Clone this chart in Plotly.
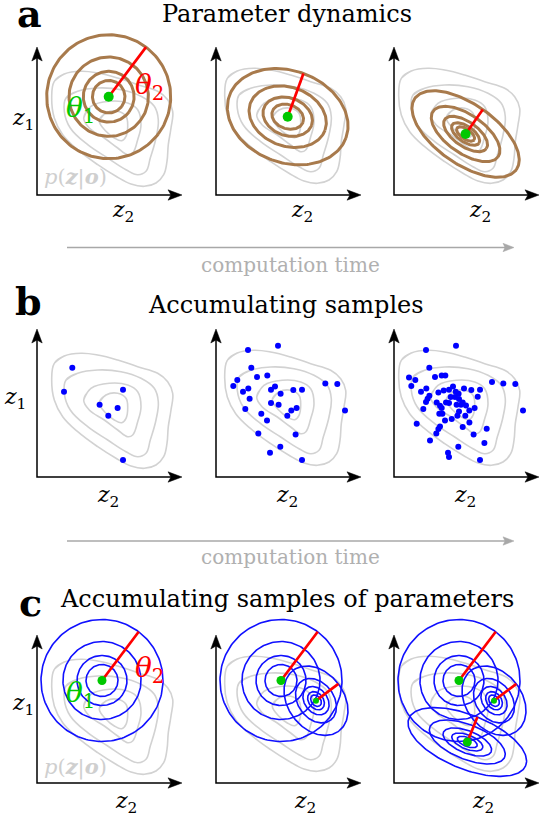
import numpy as np
import plotly.graph_objects as go

# page geometry (body margin is removed after drawing, see write_html below)
OFF = 0
FW, FH = 543, 816

# ---------------- data ----------------
# iso-density contours of p(z|o) for the first column (z2 -> horizontal, z1 -> vertical)
dens_l4_z2 = [17.3, 27.3, 44.0, 60.7, 80.7, 100.7, 120.7, 130.7, 135.7, 134.0, 131.3, 130.0, 126.7, 119.0, 107.3, 94.0, 79.0, 60.7, 40.7, 25.7, 17.3, 14.7]
dens_l4_z1 = [113.7, 121.0, 123.7, 122.0, 117.0, 110.3, 103.7, 95.3, 83.7, 67.0, 50.3, 33.7, 20.3, 12.0, 8.7, 11.0, 18.7, 30.3, 45.3, 60.3, 77.0, 97.0]
dens_l3_z2 = [29.0, 40.7, 60.7, 84.0, 104.0, 117.3, 121.3, 119.0, 113.3, 109.0, 100.7, 89.0, 70.7, 50.7, 33.3, 27.3]
dens_l3_z1 = [97.0, 103.7, 107.0, 105.3, 98.7, 88.7, 75.3, 57.0, 37.0, 23.7, 20.3, 25.3, 37.0, 50.3, 67.0, 83.7]
dens_l2_z2 = [46.7, 54.0, 72.3, 90.7, 100.7, 104.0, 100.7, 95.7, 90.7, 80.7, 67.3, 52.3]
dens_l2_z1 = [77.0, 88.7, 93.7, 92.0, 85.3, 70.3, 55.3, 42.0, 40.3, 47.0, 57.0, 67.0]
dens_l1_z2 = [62.3, 69.0, 80.7, 89.0, 90.7, 89.0, 84.7, 77.3, 69.0]
dens_l1_z1 = [74.3, 82.0, 83.7, 78.7, 68.7, 58.7, 54.3, 57.0, 63.7]
# placement of the density in columns 1..3
dens_shift_z2 = [0.0, -6.0, -10.0]
dens_shift_z1 = [0.0, 3.0, 3.0]

# panel a: parameters over computation time (mean z2, mean z1, major sd, minor sd, angle deg)
a_mu_z2 = [71.7, 71.7, 71.6]
a_mu_z1 = [98.3, 78.3, 61.0]
a_sd_major = [62.0, 62.0, 62.0]
a_sd_minor = [62.0, 46.0, 30.0]
a_angle = [-37.0, -20.0, -35.0]
a_rings = [4, 4, 5]

# panel b: accumulated samples (batches appended over time)
s_batch1_z2 = [35.3, 27.0, 86.0, 62.6, 80.6, 71.3, 86.0]
s_batch1_z1 = [109.3, 85.3, 87.3, 72.3, 69.0, 61.3, 17.0]
s_batch2_z2 = [62.0, 32.0, 41.0, 51.3, 21.3, 17.3, 32.3, 33.6, 55.0, 59.0, 64.6, 77.3, 109.3, 121.3, 129.0, 29.3, 45.3, 55.0, 75.3, 51.0, 42.3, 79.6, 64.3, 54.0]
s_batch2_z1 = [131.3, 127.0, 100.0, 101.6, 97.0, 91.0, 88.6, 78.3, 87.3, 90.6, 83.3, 87.0, 93.6, 93.0, 66.6, 68.0, 63.3, 74.0, 66.6, 56.6, 43.6, 42.6, 30.3, 24.3]
s_batch3_z2 = [47.7, 15.0, 35.4, 32.0, 44.4, 49.7, 61.7, 70.0, 83.7, 98.0, 42.7, 46.0, 47.7, 52.0, 56.7, 61.0, 65.0, 67.0, 68.7, 72.0, 65.0, 63.4, 75.4, 48.4, 57.7, 22.7, 46.0, 44.4, 68.7, 92.7, 36.0, 90.4, 55.0]
s_batch3_z1 = [101.6, 99.6, 81.3, 75.0, 84.6, 86.6, 85.3, 88.6, 80.3, 95.0, 74.6, 71.3, 69.0, 74.6, 80.0, 80.0, 78.0, 72.3, 74.6, 71.6, 65.6, 61.3, 54.6, 63.3, 58.0, 53.3, 50.6, 48.0, 50.0, 48.3, 36.6, 34.0, 20.0]

# panel c: accumulated parameter samples
p_mu_z2 = [65.0, 100.0, 73.3]
p_mu_z1 = [102.5, 82.3, 41.0]
p_sd_major = [61.0, 38.0, 63.0]
p_sd_minor = [61.0, 28.0, 27.0]
p_angle = [-37.0, -53.0, -22.0]
p_rings = [4, 5, 5]
c_n_params = [1, 2, 3]

ring_ratio = 0.64

# ---------------- style / layout ----------------
col_ox = [37, 216, 394]      # window px of the axis corner
row_oy = [195, 477, 783]
XR = (-36, 149)
YR = (-20, 168)
AX_X, AX_Y = 145, 148

FONT = "DejaVu Serif"
GRAY = "#d2d2d2"
BROWN = "#a87a4c"
BLUE = "#1010ff"
GREEN = "#00c800"
RED = "#ff0000"


def px2paper(px, py):
    return (px - OFF) / FW, 1 - (py - OFF) / FH


fig = go.Figure()
layout = dict(width=FW, height=FH, margin=dict(l=0, r=0, t=0, b=0),
              paper_bgcolor="white", plot_bgcolor="rgba(0,0,0,0)",
              showlegend=False, annotations=[])
ann = layout["annotations"]


def names(k):
    return (("x" if k == 1 else f"x{k}"), ("y" if k == 1 else f"y{k}"),
            ("xaxis" if k == 1 else f"xaxis{k}"), ("yaxis" if k == 1 else f"yaxis{k}"))


def line(xn, yn, x, y, color, width, **kw):
    fig.add_trace(go.Scatter(x=x, y=y, mode="lines", xaxis=xn, yaxis=yn,
                             line=dict(color=color, width=width, **kw), hoverinfo="skip"))


def head(xn, yn, tx, ty, dx, dy, color, hl=14, hw=5.2, hn=3.0):
    # filled arrow head with its tip at (tx, ty) pointing along (dx, dy)
    nx, ny = -dy, dx
    bx, by = tx - hl * dx, ty - hl * dy
    xs = [tx, bx + hw * nx, tx - (hl - hn) * dx, bx - hw * nx, tx]
    ys = [ty, by + hw * ny, ty - (hl - hn) * dy, by - hw * ny, ty]
    fig.add_trace(go.Scatter(x=xs, y=ys, mode="lines", fill="toself", fillcolor=color,
                             xaxis=xn, yaxis=yn, line=dict(color=color, width=0.5),
                             hoverinfo="skip"))


def setup_panel(k, r, c):
    ox, oy = col_ox[c], row_oy[r]
    x0, y0 = px2paper(ox + XR[0], oy - YR[0])
    x1, y1 = px2paper(ox + XR[1], oy - YR[1])
    xn, yn, xk, yk = names(k)
    layout[xk] = dict(domain=[max(0, x0), min(1, x1)], range=list(XR), visible=False,
                      fixedrange=True, anchor=yn)
    layout[yk] = dict(domain=[max(0, y0), min(1, y1)], range=list(YR), visible=False,
                      fixedrange=True, anchor=xn)
    return xn, yn


def draw_axes(xn, yn):
    line(xn, yn, [0, 0, AX_X - 8], [AX_Y - 8, 0, 0], "black", 1.5)
    head(xn, yn, AX_X, 0, 1, 0, "black")
    head(xn, yn, 0, AX_Y, 0, 1, "black")


def draw_density(xn, yn, c):
    for zx, zy in [(dens_l4_z2, dens_l4_z1), (dens_l3_z2, dens_l3_z1),
                   (dens_l2_z2, dens_l2_z1), (dens_l1_z2, dens_l1_z1)]:
        # close the outline, wrapping one extra vertex so the spline joins smoothly
        xs = [v + dens_shift_z2[c] for v in zx + zx[:2]]
        ys = [v + dens_shift_z1[c] for v in zy + zy[:2]]
        line(xn, yn, xs, ys, GRAY, 1.6, shape="spline", smoothing=1.15)


def ellipse_xy(mx, my, a, b, ang, s):
    t = np.linspace(0, 2 * np.pi, 181)
    ca, sa = np.cos(np.radians(ang)), np.sin(np.radians(ang))
    x = mx + s * (a * np.cos(t) * ca - b * np.sin(t) * sa)
    y = my + s * (a * np.cos(t) * sa + b * np.sin(t) * ca)
    return x, y


def draw_param(xn, yn, mx, my, a, b, ang, nring, color, width):
    for i in range(nring):
        x, y = ellipse_xy(mx, my, a, b, ang, ring_ratio ** i)
        line(xn, yn, x, y, color, width)


def draw_theta(xn, yn, mx, my, b, ang, dot):
    ex = mx - b * np.sin(np.radians(ang))
    ey = my + b * np.cos(np.radians(ang))
    line(xn, yn, [mx, ex], [my, ey], RED, 2.7)
    fig.add_trace(go.Scatter(x=[mx], y=[my], mode="markers", xaxis=xn, yaxis=yn,
                             marker=dict(color=GREEN, size=dot), hoverinfo="skip",
                             cliponaxis=False))


def text(x, y, s, size, color="black", xref="paper", yref="paper"):
    ann.append(dict(x=x, y=y, xref=xref, yref=yref, text=s, showarrow=False,
                    font=dict(family=FONT, size=size, color=color),
                    xanchor="center", yanchor="middle"))


def axis_labels(xn, yn, r, c):
    z2pos = [(86, -16), (71, -19), (89, -19)][r]
    text(z2pos[0], z2pos[1], "<i>z</i><sub>2</sub>", 22, xref=xn, yref=yn)
    if c == 0:
        z1pos = [(-14, 76), (-22, 79), (-14, 79)][r]
        text(z1pos[0], z1pos[1], "<i>z</i><sub>1</sub>", 22, xref=xn, yref=yn)


k = 0
for r in range(3):
    for c in range(3):
        k += 1
        xn, yn = setup_panel(k, r, c)
        draw_density(xn, yn, c)
        axis_labels(xn, yn, r, c)
        if r == 0:
            draw_param(xn, yn, a_mu_z2[c], a_mu_z1[c], a_sd_major[c], a_sd_minor[c],
                       a_angle[c], a_rings[c], BROWN, 3)
            draw_theta(xn, yn, a_mu_z2[c], a_mu_z1[c], a_sd_minor[c], a_angle[c], 10)
        elif r == 1:
            sx = list(s_batch1_z2)
            sy = list(s_batch1_z1)
            if c >= 1:
                sx += s_batch2_z2
                sy += s_batch2_z1
            if c >= 2:
                sx += s_batch3_z2
                sy += s_batch3_z1
            fig.add_trace(go.Scatter(x=sx, y=sy, mode="markers", xaxis=xn, yaxis=yn,
                                     marker=dict(color="#0000ff", size=6), hoverinfo="skip"))
        else:
            n = c_n_params[c]
            for j in range(n):
                draw_param(xn, yn, p_mu_z2[j], p_mu_z1[j], p_sd_major[j], p_sd_minor[j],
                           p_angle[j], p_rings[j], BLUE, 1.6)
            for j in range(n):
                draw_theta(xn, yn, p_mu_z2[j], p_mu_z1[j], p_sd_minor[j], p_angle[j],
                           [9, 6, 9][j])
        draw_axes(xn, yn)
        if c == 0 and r != 1:
            text(43, 86 if r == 0 else 89, "<i>θ</i><sub>1</sub>", 28, color=GREEN, xref=xn, yref=yn)
            text(112, 109 if r == 0 else 114, "<i>θ</i><sub>2</sub>", 28, color=RED, xref=xn, yref=yn)
            text(38, 18 if r == 0 else 16,
                 "<i>p</i>(<b><i>z</i></b>|<b><i>o</i></b>)", 21, color="#cfcfcf", xref=xn, yref=yn)

# full-page overlay axis for the computation-time arrows
k += 1
xn, yn, xk, yk = names(k)
layout[xk] = dict(domain=[0, 1], range=[OFF, OFF + FW], visible=False, fixedrange=True, anchor=yn)
layout[yk] = dict(domain=[0, 1], range=[OFF + FH, OFF], visible=False, fixedrange=True, anchor=xn)
for ay_px in [247.5, 541]:
    line(xn, yn, [67, 505], [ay_px, ay_px], "#a8a8a8", 1.3)
    head(xn, yn, 514, ay_px, 1, 0, "#a8a8a8", hl=11, hw=4.2, hn=2.0)

# titles and panel letters
for s, (tx, ty) in [("Parameter dynamics", (287, 14)), ("Accumulating samples", (286, 305)),
                    ("Accumulating samples of parameters", (287, 599))]:
    text(*px2paper(tx, ty), s, 24)
for lt, (lx, ly) in zip(["a", "b", "c"], [(29.5, 13.5), (28, 301), (30, 602)]):
    text(*px2paper(lx, ly), f"<b>{lt}</b>", 38)
for ty_px in [265, 557]:
    text(*px2paper(290, ty_px), "computation time", 20, color="#b0b0b0")

fig.update_layout(**layout)
fig.write_html("out.html", config={"displayModeBar": False},
               post_script="document.body.style.margin='0px';")
